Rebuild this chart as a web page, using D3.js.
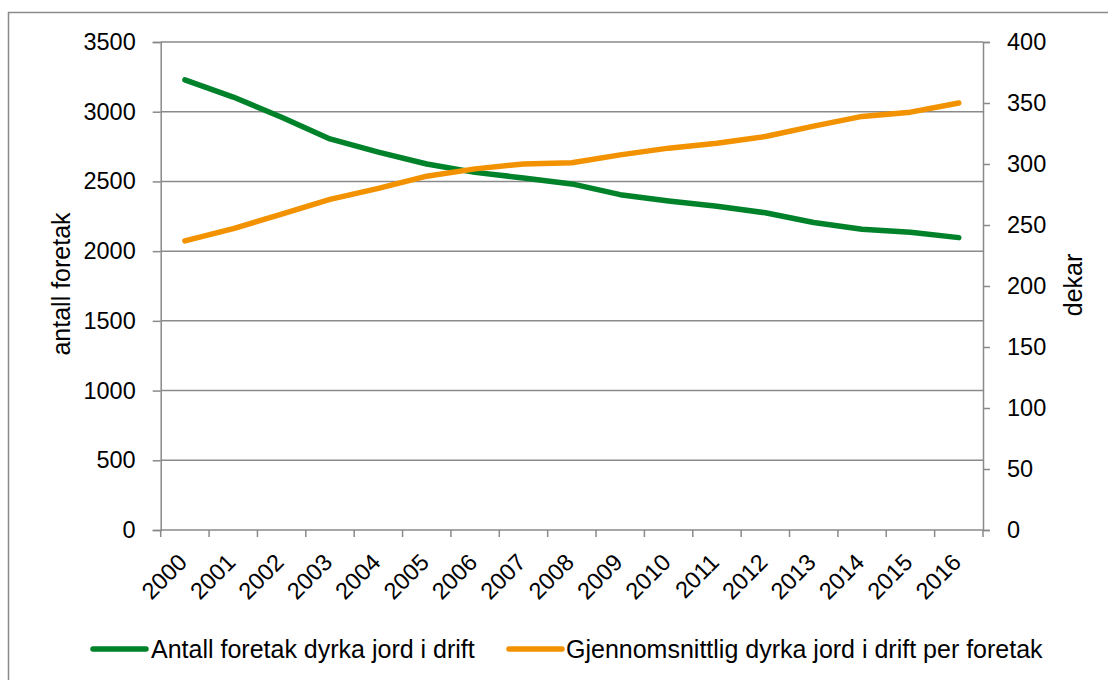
<!DOCTYPE html>
<html>
<head>
<meta charset="utf-8">
<script src="https://cdn.jsdelivr.net/npm/d3@7"></script>
<style>
  html, body { margin: 0; padding: 0; background: #ffffff; }
  svg { display: block; }
  text { font-family: "Liberation Sans", Arial, sans-serif; fill: #000; }
</style>
</head>
<body>
<svg id="chart" width="1108" height="680"></svg>
<script>
const years = ["2000","2001","2002","2003","2004","2005","2006","2007","2008","2009","2010","2011","2012","2013","2014","2015","2016"];
const antallForetak = [3228, 3105, 2960, 2805, 2710, 2625, 2565, 2525, 2482, 2405, 2360, 2322, 2275, 2205, 2157, 2135, 2097];
const gjennomsnittDekar = [237, 247, 259, 271, 280, 290, 296, 300, 301, 307.5, 313, 317, 322.5, 331, 339, 342.5, 350];
const leftTicks = [0, 500, 1000, 1500, 2000, 2500, 3000, 3500];
const rightTicks = [0, 50, 100, 150, 200, 250, 300, 350, 400];
const seriesNames = ["Antall foretak dyrka jord i drift", "Gjennomsnittlig dyrka jord i drift per foretak"];
const seriesColors = ["#00822B", "#F39200"];

const svg = d3.select("#chart");
const m = { left: 160.7, right: 983, top: 42, bottom: 530 };
const gridColor = "#8a8a8a";

// outer border
svg.append("rect").attr("x", 8.5).attr("y", 12.5).attr("width", 1200).attr("height", 800)
  .attr("fill", "none").attr("stroke", "#8a8a8a").attr("stroke-width", 1.5);

const x = d3.scaleBand().domain(years).range([m.left, m.right]).padding(0);
const yL = d3.scaleLinear().domain([0, 3500]).range([m.bottom, m.top]);
const yR = d3.scaleLinear().domain([0, 400]).range([m.bottom, m.top]);

// gridlines
svg.append("g").selectAll("line").data(leftTicks.filter(d => d > 0)).join("line")
  .attr("x1", m.left).attr("x2", m.right)
  .attr("y1", d => yL(d)).attr("y2", d => yL(d))
  .attr("stroke", gridColor).attr("stroke-width", 1.5);

// left axis
const gl = svg.append("g").attr("transform", `translate(${m.left},0)`)
  .call(d3.axisLeft(yL).tickValues(leftTicks).tickSize(8).tickPadding(17).tickFormat(d3.format("d")));
// right axis
const gr = svg.append("g").attr("transform", `translate(${m.right},0)`)
  .call(d3.axisRight(yR).tickValues(rightTicks).tickSize(7).tickPadding(17).tickFormat(d3.format("d")));
// bottom axis
const gb = svg.append("g").attr("transform", `translate(0,${m.bottom})`)
  .call(d3.axisBottom(x).tickSize(0).tickFormat(""));
// bottom tick marks at band boundaries
const bounds = years.map(d => x(d)).concat([m.right]);
svg.append("g").selectAll("line").data(bounds).join("line")
  .attr("x1", d => d).attr("x2", d => d)
  .attr("y1", m.bottom).attr("y2", m.bottom + 7)
  .attr("stroke", gridColor).attr("stroke-width", 1.5);

[gl, gr, gb].forEach(g => {
  g.selectAll(".domain").attr("stroke", gridColor).attr("stroke-width", 1.5);
  g.selectAll(".tick line").attr("stroke", gridColor).attr("stroke-width", 1.5);
  g.selectAll(".tick text").attr("font-size", "23.5px").attr("font-family", "Liberation Sans, Arial, sans-serif").attr("fill", "#000");
});
gb.select(".domain").attr("d", `M${m.left},0H${m.right}`);

// x labels rotated
svg.append("g").selectAll("text").data(years).join("text")
  .attr("transform", d => `translate(${x(d) + x.bandwidth() / 2 - 2},558) rotate(-45)`)
  .attr("text-anchor", "end").attr("dominant-baseline", "central")
  .attr("font-size", "23.5px")
  .text(d => d);

// axis titles
svg.append("text").attr("transform", `translate(61,${(m.top + m.bottom) / 2 - 2}) rotate(-90)`)
  .attr("text-anchor", "middle").attr("dominant-baseline", "central")
  .attr("font-size", "25px").text("antall foretak");
svg.append("text").attr("transform", `translate(1073,285) rotate(-90)`)
  .attr("text-anchor", "middle").attr("dominant-baseline", "central")
  .attr("font-size", "25px").text("dekar");

// lines
const cx = d => x(d) + x.bandwidth() / 2;
const lineL = d3.line().x((d, i) => cx(years[i])).y(d => yL(d));
const lineR = d3.line().x((d, i) => cx(years[i])).y(d => yR(d));
svg.append("path").datum(antallForetak).attr("d", lineL)
  .attr("fill", "none").attr("stroke", seriesColors[0]).attr("stroke-width", 5.5)
  .attr("stroke-linecap", "round").attr("stroke-linejoin", "round");
svg.append("path").datum(gjennomsnittDekar).attr("d", lineR)
  .attr("fill", "none").attr("stroke", seriesColors[1]).attr("stroke-width", 5.5)
  .attr("stroke-linecap", "round").attr("stroke-linejoin", "round");

// legend
const legendItems = [
  { x1: 93, x2: 146, tx: 151, name: seriesNames[0], color: seriesColors[0] },
  { x1: 509, x2: 562, tx: 566, name: seriesNames[1], color: seriesColors[1] }
];
const lg = svg.append("g");
legendItems.forEach(it => {
  lg.append("line").attr("x1", it.x1).attr("x2", it.x2).attr("y1", 649).attr("y2", 649)
    .attr("stroke", it.color).attr("stroke-width", 5.5).attr("stroke-linecap", "round");
  lg.append("text").attr("x", it.tx).attr("y", 649).attr("dominant-baseline", "central")
    .attr("font-size", "25px").text(it.name);
});
</script>
</body>
</html>
